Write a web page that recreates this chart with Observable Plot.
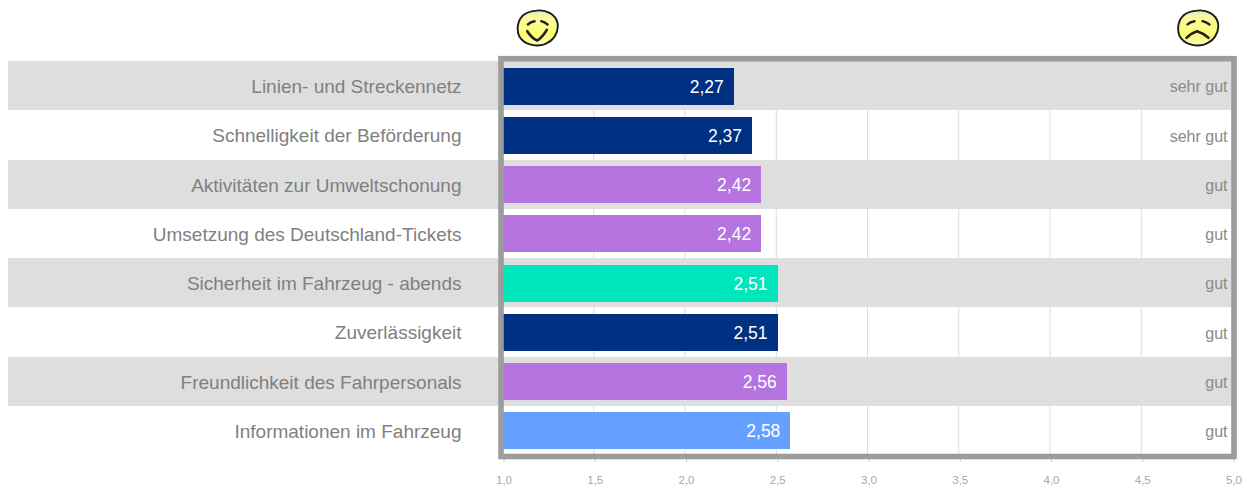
<!DOCTYPE html>
<html>
<head>
<meta charset="utf-8">
<script src="https://cdn.jsdelivr.net/npm/d3@7"></script>
<script src="https://cdn.jsdelivr.net/npm/@observablehq/plot@0.6"></script>
<style>html,body{margin:0;padding:0;background:#fff}svg{display:block}</style>
</head>
<body>
<div id="chart"></div>
<script>
const categories = ["Linien- und Streckennetz","Schnelligkeit der Beförderung","Aktivitäten zur Umweltschonung","Umsetzung des Deutschland-Tickets","Sicherheit im Fahrzeug - abends","Zuverlässigkeit","Freundlichkeit des Fahrpersonals","Informationen im Fahrzeug"];
const values = [2.27,2.37,2.42,2.42,2.51,2.51,2.56,2.58];
const verdicts = ["sehr gut","sehr gut","gut","gut","gut","gut","gut","gut"];
const barColors = ["#003082","#003082","#b574e0","#b574e0","#00e6bc","#003082","#b574e0","#659fff"];
const stripedRows = [categories[0],categories[2],categories[4],categories[6]];
const xTicks = [1,1.5,2,2.5,3,3.5,4,4.5,5];
const stripeStart = -1.707;
const axisStart = 1;
const happyAt = 1.192;
const sadAt = 4.811;

const comma = v => v.toFixed(2).replace(".", ",");
const faceSvg = (marks) => "data:image/svg+xml," + encodeURIComponent(
`<svg xmlns="http://www.w3.org/2000/svg" width="44" height="40" viewBox="0 0 44 40">
<defs><linearGradient id="g" x1="0" y1="0" x2="0" y2="1"><stop offset="0" stop-color="#e8e8c8"/><stop offset=".22" stop-color="#fbfb9c"/><stop offset=".7" stop-color="#fdfd70"/><stop offset="1" stop-color="#fbfbc0"/></linearGradient></defs>
<path d="M21 2.6C31 1.4 40 6.5 42 15C43.6 25 37.5 33.5 28 36.6C18 39 8 36 3.5 28C0.8 21 2 12 8 7C12 4 16 3 21 2.6Z" fill="url(#g)" stroke="#1e1e1e" stroke-width="1.9" stroke-linejoin="round"/>
${marks}</svg>`);
const inkHappy = `<path d="M12.3 16.5Q15 14 19 13.2M25.7 13.2Q29 14 32 16.5" fill="none" stroke="#222" stroke-width="2.4" stroke-linecap="round"/><path d="M11.7 23.2Q16 30 21.7 32.5Q27 29 31.3 21.8" fill="none" stroke="#222" stroke-width="2.6" stroke-linecap="round"/>`;
const inkSad = `<path d="M11.5 16.5Q14 14 18.5 13.2M26.5 13.2Q30 14 33.5 16.5" fill="none" stroke="#222" stroke-width="2.4" stroke-linecap="round"/><path d="M10.5 29.8Q15 25 21.2 23.2Q27 25 32.5 29.8" fill="none" stroke="#222" stroke-width="2.6" stroke-linecap="round"/>`;
const faces = [{x: happyAt, src: faceSvg(inkHappy)},{x: sadAt, src: faceSvg(inkSad)}];

const rows = categories.map((name, i) => ({name, value: values[i], verdict: verdicts[i], color: barColors[i]}));

const plot = Plot.plot({
  width: 1246, height: 489,
  marginLeft: 500.5, marginRight: 12.5, marginTop: 58.2, marginBottom: 33,
  style: {fontFamily: "'Liberation Sans', Arial, sans-serif", background: "#fff"},
  x: {domain: [1,5], range: [502,1232], axis: null},
  y: {domain: categories, range: [61,455], padding: 0, round: false, axis: null},
  marks: [
    Plot.gridX(xTicks, {stroke: "#dcdcdc", strokeOpacity: 1, strokeWidth: 1}),
    Plot.barX(stripedRows, {x1: () => stripeStart, x2: () => 5, y: d => d, fill: "#dedede", clip: false, shapeRendering: "crispEdges"}),
    Plot.barX(rows, {x1: () => axisStart, x2: "value", y: "name", fill: "color", insetTop: 6.6, insetBottom: 5.65, shapeRendering: "crispEdges"}),
    Plot.axisX({ticks: xTicks, tickSize: 6, tickPadding: 13, stroke: "#c8c8c8", fill: "#a8a8a8", fontSize: 11.5, dx: 1.5,
      tickFormat: v => v.toFixed(1).replace(".", ","), label: null}),
    Plot.axisY({anchor: "left", tickSize: 0, tickPadding: 39.5, fill: "#808080", fontSize: 19, label: null, lineWidth: 100, dy: 1}),
    Plot.text(rows, {x: "value", y: "name", text: d => comma(d.value), fill: "#fff", fontSize: 17.5, textAnchor: "end", dx: -10.5, dy: 1}),
    Plot.text(rows, {x: () => 5, y: "name", text: "verdict", fill: "#8a8a8a", fontSize: 16, textAnchor: "end", dx: -5, dy: 1}),
    Plot.frame({stroke: "#9c9c9c", strokeWidth: 5.6}),
    Plot.image(faces, {x: "x", frameAnchor: "top", src: "src", width: 44, height: 40, dy: -30.7})
  ]
});
document.getElementById("chart").append(plot);
</script>
</body>
</html>
